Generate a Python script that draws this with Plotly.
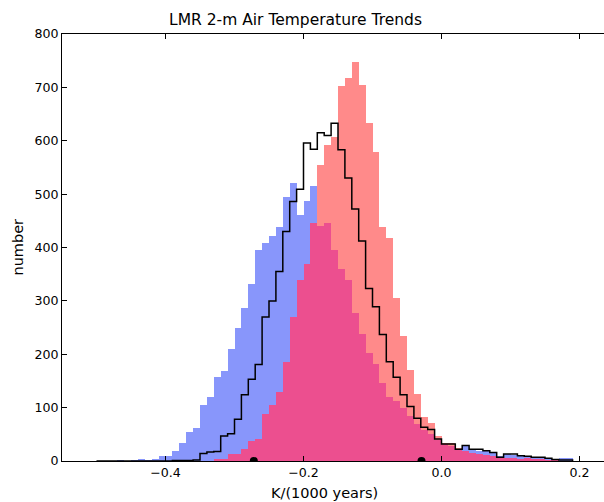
import numpy as np
import plotly.graph_objects as go

# Histogram bins: left edges, 0.01 K/(1000 yr) wide
bin_left = np.round(np.arange(-0.50, 0.185, 0.01), 2)
bin_width = 0.01

# Counts per bin
blue_counts = [0, 0, 0, 1, 0, 1, 2, 1, 3, 10,
               10, 19, 33, 54, 62, 105, 119, 158, 168, 210,
               249, 286, 332, 395, 408, 422, 439, 494, 520, 461,
               488, 516, 440, 446, 395, 360, 339, 277, 238, 203,
               182, 146, 119, 113, 100, 84, 69, 59, 50, 40,
               31, 29, 22, 29, 20, 19, 19, 17, 10, 14,
               12, 11, 10, 8, 8, 6, 4, 5, 5]
red_counts = [0, 0, 0, 0, 0, 0, 0, 0, 0, 0,
              0, 0, 0, 0, 0, 0, 0, 3, 3, 13,
              13, 22, 38, 41, 89, 105, 130, 186, 269, 339,
              369, 446, 554, 592, 607, 702, 717, 748, 704, 633,
              578, 438, 417, 305, 234, 170, 126, 83, 72, 46,
              33, 33, 24, 19, 15, 14, 11, 9, 7, 5,
              5, 4, 6, 3, 3, 1, 1, 0, 0]
black_counts = [0, 0, 0, 0, 0, 0, 0, 0, 0, 0,
                0, 1, 1, 1, 2, 14, 17, 18, 47, 51,
                78, 124, 153, 181, 270, 300, 355, 430, 486, 509,
                596, 584, 615, 610, 633, 583, 530, 472, 412, 323,
                289, 237, 186, 157, 124, 102, 80, 63, 59, 41,
                32, 32, 22, 29, 22, 22, 19, 16, 7, 13,
                13, 10, 9, 7, 7, 5, 3, 2, 2]

# Marker positions on the zero line
dot_x = [-0.272, -0.029]
dot_y = [0, 0]

BLUE = "#8896fb"
RED = "#ff8a8a"
OVERLAP = "#ec4f8f"

fig = go.Figure()

centers = bin_left + bin_width / 2
fig.add_trace(go.Bar(x=centers, y=blue_counts, width=bin_width,
                     marker=dict(color=BLUE, line=dict(width=0)),
                     showlegend=False))
fig.add_trace(go.Bar(x=centers, y=red_counts, width=bin_width,
                     marker=dict(color=RED, line=dict(width=0)),
                     showlegend=False))
fig.add_trace(go.Bar(x=centers, y=np.minimum(blue_counts, red_counts), width=bin_width,
                     marker=dict(color=OVERLAP, line=dict(width=0)),
                     showlegend=False))

# Outline histogram drawn as a step curve
edges = np.append(bin_left, bin_left[-1] + bin_width)
step_x = np.concatenate([[edges[0]], edges])
step_y = np.concatenate([[0], black_counts, [0]])
fig.add_trace(go.Scatter(x=step_x, y=step_y, mode="lines",
                         line=dict(color="black", width=1.5, shape="hv"),
                         showlegend=False))

fig.add_trace(go.Scatter(x=dot_x, y=dot_y, mode="markers",
                         marker=dict(color="black", size=8),
                         cliponaxis=True, showlegend=False))

font = "DejaVu Sans"
fig.update_layout(
    width=604, height=502,
    margin=dict(l=62, r=0, t=34, b=41),
    paper_bgcolor="white", plot_bgcolor="white",
    barmode="overlay", bargap=0,
    font=dict(family=font, size=12.6, color="black"),
    xaxis=dict(range=[-0.55, 0.2355], tick0=0, dtick=0.2, tickformat=".1f",
               ticks="inside", ticklen=5, tickwidth=1, tickcolor="black",
               showline=True, linecolor="black", linewidth=1, mirror="ticks",
               showgrid=False, zeroline=False),
    yaxis=dict(range=[0, 800], dtick=100,
               ticks="inside", ticklen=5, tickwidth=1, tickcolor="black",
               showline=True, linecolor="black", linewidth=1, mirror=False,
               showgrid=False, zeroline=False),
    annotations=[
        dict(text="LMR 2-m Air Temperature Trends", xref="paper", yref="paper",
             x=0.4308, y=1.0328, xanchor="center", yanchor="middle",
             showarrow=False, font=dict(family=font, size=15.5)),
        dict(text="K/(1000 years)", xref="paper", yref="paper",
             x=0.4852, y=-0.0749, xanchor="center", yanchor="middle",
             showarrow=False, font=dict(family=font, size=14.5)),
        dict(text="number", xref="paper", yref="paper",
             x=-0.083, y=0.5, xanchor="center", yanchor="middle", textangle=-90,
             showarrow=False, font=dict(family=font, size=14.5)),
    ],
)

fig.write_html("out.html")
